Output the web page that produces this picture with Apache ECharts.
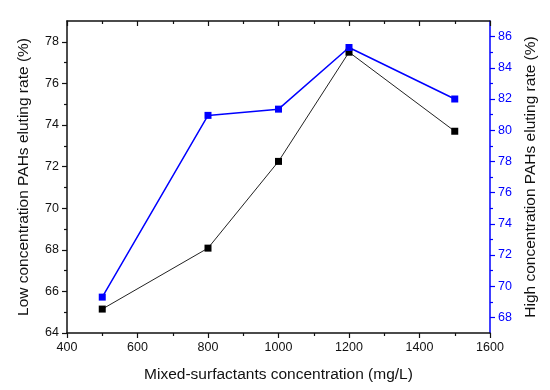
<!DOCTYPE html>
<html>
<head>
<meta charset="utf-8">
<script src="https://cdn.jsdelivr.net/npm/echarts@6/dist/echarts.min.js"></script>
<style>html,body{margin:0;padding:0;background:#fff;}#c{width:550px;height:390px;}</style>
</head>
<body>
<div id="c"></div>
<script>
const concentrations = [500, 800, 1000, 1200, 1500];
const lowRate = [65.15, 68.08, 72.25, 77.5, 73.7];
const highRate = [69.3, 80.95, 81.35, 85.3, 82.0];
const leftMajorTicks = [64, 66, 68, 70, 72, 74, 76, 78];
const leftMinorTicks = [65, 67, 69, 71, 73, 75, 77];
const rightMajorTicks = [68, 70, 72, 74, 76, 78, 80, 82, 84, 86];
const rightMinorTicks = [69, 71, 73, 75, 77, 79, 81, 83, 85];

const font = 'Liberation Sans, Arial, sans-serif';
const blue = '#0000ff';
const plain = v => String(v);
const chart = echarts.init(document.getElementById('c'));
chart.setOption({
  animation: false,
  backgroundColor: '#fff',
  grid: { left: 67, right: 60, top: 21, bottom: 57, containLabel: false },
  xAxis: [{
    type: 'value', position: 'bottom', min: 400, max: 1600, interval: 200,
    name: 'Mixed-surfactants concentration (mg/L)', nameLocation: 'middle', nameGap: 34,
    nameTextStyle: { fontFamily: font, fontSize: 15.5, color: '#111' },
    axisLine: { show: true, lineStyle: { color: '#111', width: 1.5 } },
    axisTick: { show: true, length: 5, lineStyle: { color: '#111', width: 1.2 } },
    minorTick: { show: true, splitNumber: 2, length: 3, lineStyle: { color: '#111', width: 1.2 } },
    axisLabel: { fontFamily: font, fontSize: 12.5, color: '#111', margin: 8, formatter: plain },
    splitLine: { show: false }
  }, {
    type: 'value', position: 'top', min: 400, max: 1600, interval: 200,
    axisLine: { show: true, lineStyle: { color: '#111', width: 1.5 } },
    axisTick: { show: true, inside: true, length: 5, lineStyle: { color: '#111', width: 1.2 } },
    minorTick: { show: true, splitNumber: 2, length: 3, lineStyle: { color: '#111', width: 1.2 } },
    axisLabel: { show: false },
    splitLine: { show: false }
  }],
  yAxis: [{
    type: 'value', position: 'left', min: 64, max: 79, interval: 1,
    name: 'Low concentration PAHs eluting rate (%)', nameLocation: 'middle', nameGap: 35, nameRotate: 90,
    nameTextStyle: { fontFamily: font, fontSize: 15.5, color: '#111' },
    axisLine: { show: true, lineStyle: { color: '#111', width: 1.5 } },
    axisTick: { show: true, length: 5, customValues: leftMajorTicks, lineStyle: { color: '#111', width: 1.2 } },
    axisLabel: { fontFamily: font, fontSize: 12.5, color: '#111', margin: 8, customValues: leftMajorTicks, formatter: plain },
    splitLine: { show: false }
  }, {
    type: 'value', position: 'left', min: 64, max: 79, interval: 1,
    axisLine: { show: false },
    axisTick: { show: true, length: 3, customValues: leftMinorTicks, lineStyle: { color: '#111', width: 1.2 } },
    axisLabel: { show: false },
    splitLine: { show: false }
  }, {
    type: 'value', position: 'right', min: 67, max: 87, interval: 1,
    name: 'High concentration PAHs eluting rate (%)', nameLocation: 'middle', nameGap: 30, nameRotate: 90,
    nameTextStyle: { fontFamily: font, fontSize: 15.5, color: '#111' },
    axisLine: { show: true, lineStyle: { color: blue, width: 1.5 } },
    axisTick: { show: true, length: 5, customValues: rightMajorTicks, lineStyle: { color: blue, width: 1.2 } },
    axisLabel: { fontFamily: font, fontSize: 12.5, color: blue, margin: 8, customValues: rightMajorTicks, formatter: plain },
    splitLine: { show: false }
  }, {
    type: 'value', position: 'right', min: 67, max: 87, interval: 1,
    axisLine: { show: false },
    axisTick: { show: true, length: 3, customValues: rightMinorTicks, lineStyle: { color: blue, width: 1.2 } },
    axisLabel: { show: false },
    splitLine: { show: false }
  }],
  series: [{
    type: 'line', xAxisIndex: 0, yAxisIndex: 0,
    data: concentrations.map((c, i) => [c, lowRate[i]]),
    symbol: 'rect', symbolSize: 7,
    lineStyle: { color: '#222', width: 1 },
    itemStyle: { color: '#000' }
  }, {
    type: 'line', xAxisIndex: 0, yAxisIndex: 2,
    data: concentrations.map((c, i) => [c, highRate[i]]),
    symbol: 'rect', symbolSize: 7,
    lineStyle: { color: blue, width: 1.5 },
    itemStyle: { color: blue }
  }]
});
</script>
</body>
</html>
